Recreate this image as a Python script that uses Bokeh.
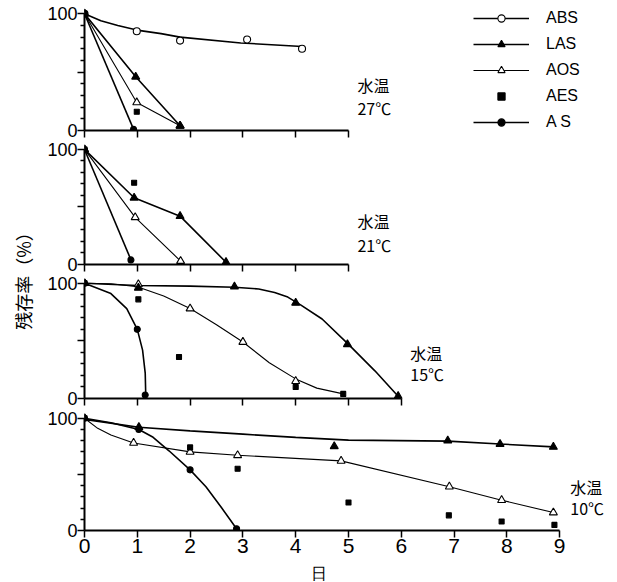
import math
from bokeh.plotting import figure
from bokeh.layouts import row, column
from bokeh.models import Range1d, FixedTicker, Legend, LegendItem
from bokeh.embed import file_html
from bokeh.resources import INLINE
from bokeh.core.properties import value

# ---------------- data ----------------
series_names = ["ABS", "LAS", "AOS", "AES", "A S"]
temp_labels = ["27℃", "21℃", "15℃", "10℃"]
water_temp_word = "水温"
y_title = "残存率（%）"
x_title = "日"

# 27 C
t27_abs_x = [0, 0.99, 1.81, 3.08, 4.12]
t27_abs_y = [100, 85, 77, 78, 70]
t27_abs_curve_x = [0, 0.31, 0.63, 0.99, 1.45, 1.81, 2.96, 4.12]
t27_abs_curve_y = [100, 94, 90, 86, 83, 80, 75, 72]
t27_las_x = [0, 0.97, 1.81]
t27_las_y = [100, 46, 4]
t27_aos_x = [0, 0.99, 1.81]
t27_aos_y = [100, 24, 4]
t27_aes_x = [0, 0.99]
t27_aes_y = [100, 16]
t27_as_x = [0, 0.93]
t27_as_y = [100, 1]

# 21 C
t21_las_x = [0, 0.94, 1.81, 2.68]
t21_las_y = [100, 58, 42, 2]
t21_aos_x = [0, 0.96, 1.82]
t21_aos_y = [100, 41, 3]
t21_aes_x = [0, 0.94]
t21_aes_y = [100, 71]
t21_as_x = [0, 0.88]
t21_as_y = [100, 4]

# 15 C
t15_las_x = [0, 1.02, 2.84, 4.0, 4.98, 5.94]
t15_las_y = [100, 96, 97, 83, 47, 2]
t15_las_curve_x = [0, 1.0, 2.0, 2.84, 3.3, 3.6, 3.85, 4.1, 4.5, 5.0, 5.5, 5.94]
t15_las_curve_y = [100, 98, 97.5, 96.5, 95, 92, 88, 81, 69, 47, 24, 2]
t15_aos_x = [0, 1.02, 2.0, 3.0, 4.0]
t15_aos_y = [100, 99, 78, 49, 15]
t15_aos_curve_x = [0, 0.5, 1.0, 1.5, 2.0, 2.5, 3.0, 3.5, 4.0, 4.4, 4.9]
t15_aos_curve_y = [100, 99.5, 97, 89, 78, 64, 49, 31, 17, 9, 4]
t15_aes_x = [0, 1.02, 1.79, 4.0, 4.9]
t15_aes_y = [100, 86, 36, 10, 4]
t15_as_x = [0, 1.0, 1.15]
t15_as_y = [100, 60, 3]
t15_as_curve_x = [0, 0.5, 0.8, 1.0, 1.1, 1.15, 1.16]
t15_as_curve_y = [100, 91, 78, 60, 42, 22, 3]

# 10 C
t10_las_x = [0, 1.03, 4.73, 6.88, 7.87, 8.88]
t10_las_y = [100, 92, 75, 80, 77, 74.5]
t10_las_curve_x = [0, 1.03, 2, 3, 4, 5, 6.88, 7.87, 8.88]
t10_las_curve_y = [99, 92, 88.7, 85.8, 82.9, 80.5, 79.6, 77, 74.5]
t10_aos_x = [0, 0.93, 2.0, 2.9, 4.86, 6.91, 7.9, 8.88]
t10_aos_y = [100, 78, 70, 67, 62, 39, 27, 16]
t10_aos_curve_x = [0, 0.25, 0.5, 0.93, 2.0, 2.9, 4.86, 6.91, 7.9, 8.88]
t10_aos_curve_y = [100, 91, 85, 78, 70, 67, 62, 39, 27, 16]
t10_aes_x = [0, 2.0, 2.9, 5.0, 6.9, 7.9, 8.9]
t10_aes_y = [100, 74, 55, 25, 13.5, 8, 5]
t10_as_x = [0, 1.03, 2.0, 2.88]
t10_as_y = [100, 90, 54, 1.5]
t10_as_curve_x = [0, 0.5, 1.03, 1.3, 1.6, 2.0, 2.3, 2.6, 2.88]
t10_as_curve_y = [100, 96, 90, 83, 71, 54, 39, 20, 1.5]

x_ticks = [0, 1, 2, 3, 4, 5, 6, 7, 8, 9]
y_major = [0, 50, 100]
y_minor = [10, 20, 30, 40, 60, 70, 80, 90]

# panel tables: (points_x, points_y, line_x, line_y) ; line None = no line
panels = [
    {"ABS": (t27_abs_x, t27_abs_y, t27_abs_curve_x, t27_abs_curve_y),
     "LAS": (t27_las_x, t27_las_y, t27_las_x, t27_las_y),
     "AOS": (t27_aos_x, t27_aos_y, t27_aos_x, t27_aos_y),
     "AES": (t27_aes_x, t27_aes_y, None, None),
     "A S": (t27_as_x, t27_as_y, t27_as_x, t27_as_y)},
    {"LAS": (t21_las_x, t21_las_y, t21_las_x, t21_las_y),
     "AOS": (t21_aos_x, t21_aos_y, t21_aos_x, t21_aos_y),
     "AES": (t21_aes_x, t21_aes_y, None, None),
     "A S": (t21_as_x, t21_as_y, t21_as_x, t21_as_y)},
    {"LAS": (t15_las_x, t15_las_y, t15_las_curve_x, t15_las_curve_y),
     "AOS": (t15_aos_x, t15_aos_y, t15_aos_curve_x, t15_aos_curve_y),
     "AES": (t15_aes_x, t15_aes_y, None, None),
     "A S": (t15_as_x, t15_as_y, t15_as_curve_x, t15_as_curve_y)},
    {"LAS": (t10_las_x, t10_las_y, t10_las_curve_x, t10_las_curve_y),
     "AOS": (t10_aos_x, t10_aos_y, t10_aos_curve_x, t10_aos_curve_y),
     "AES": (t10_aes_x, t10_aes_y, None, None),
     "A S": (t10_as_x, t10_as_y, t10_as_curve_x, t10_as_curve_y)},
]

# ---------------- styles / layout ----------------
STY = {
    "ABS": dict(marker="circle", fill_color="white", size=7, lw=1.6),
    "LAS": dict(marker="triangle", fill_color="black", size=8, lw=1.6),
    "AOS": dict(marker="triangle", fill_color="white", size=8, lw=1.1),
    "AES": dict(marker="square", fill_color="black", size=5, lw=1.6),
    "A S": dict(marker="circle", fill_color="black", size=6, lw=1.6),
}
draw_order = ["ABS", "AOS", "LAS", "AES", "A S"]

STRIP_W = 36
FIG_W = 617 - STRIP_W
LEFT = 48
X_END = (FIG_W - LEFT) / 52.8
BOTTOM_H = 20
fig_heights = [140, 134, 135, 153]
border_top = [8, 4, 4, 4]
border_bottom = [10, 10, 11, 32]
x_bounds = [5, 5, 6, 9]
y_ends = [104.5, 104.3, 104.1, 104.2]
# label positions (x data, y of first line, y of second line)
temp_pos = [(5.17, 39.4, 19.7), (5.17, 37.7, 16.7), (6.17, 39.7, 21.5), (9.2, 38.8, 20.0)]
x_title_x = 4.44

FONT = "Liberation Sans"
JP = "Noto Sans CJK JP"

figs = []
legend_items = []
for i, pdata in enumerate(panels):
    p = figure(width=FIG_W, height=fig_heights[i], x_range=Range1d(0, X_END),
               y_range=Range1d(0, y_ends[i]), output_backend="svg",
               toolbar_location=None, title=None,
               min_border_left=LEFT, min_border_right=0,
               min_border_top=border_top[i], min_border_bottom=border_bottom[i])
    p.outline_line_color = None
    p.grid.visible = False
    p.background_fill_color = "white"
    p.border_fill_color = "white"

    rends = {}
    for name in draw_order:
        if name not in pdata:
            continue
        px, py, lx, ly = pdata[name]
        s = STY[name]
        lr = None
        if lx is not None:
            lr = p.line(lx, ly, line_color="black", line_width=s["lw"])
        rends[name] = [lr, px, py]
    for name in draw_order:
        if name not in rends:
            continue
        lr, px, py = rends[name]
        s = STY[name]
        sr = p.scatter(px, py, marker=s["marker"], size=s["size"],
                       fill_color=s["fill_color"], line_color="black", line_width=1.1)
        rends[name] = [r for r in (lr, sr) if r is not None]

    if i == 0:
        for name in series_names:
            legend_items.append(LegendItem(label=name, renderers=rends[name]))
        legend = Legend(items=legend_items, location=(389, -1), orientation="vertical",
                        glyph_width=56, glyph_height=18, label_height=18, spacing=8,
                        padding=0, margin=0, label_standoff=17,
                        label_text_font=FONT, label_text_font_size="16px",
                        label_text_color="black",
                        border_line_color=None, background_fill_alpha=0)
        p.add_layout(legend)

    tx, ty1, ty2 = temp_pos[i]
    p.text(x=[tx, tx], y=[ty1, ty2], text=[water_temp_word, temp_labels[i]],
           text_font=value(JP), text_font_size="16px", text_align="left",
           text_baseline="middle", text_color="black")

    xa = p.xaxis[0]
    xa.bounds = (0, x_bounds[i])
    xa.ticker = FixedTicker(ticks=x_ticks[: x_bounds[i] + 1])
    xa.axis_line_width = 2
    xa.major_tick_line_width = 1.5
    xa.major_tick_out = 7
    xa.major_tick_in = 0
    xa.minor_tick_out = 0
    xa.minor_tick_in = 0
    if i == 3:
        xa.major_label_text_font = FONT
        xa.major_label_text_font_size = "21px"
        xa.major_label_standoff = 1
        xa.major_label_text_color = "black"
    else:
        xa.major_label_text_font_size = "1px"
        xa.major_label_standoff = 0
        xa.major_label_text_alpha = 0

    ya = p.yaxis[0]
    ya.bounds = (0, 100)
    ya.ticker = FixedTicker(ticks=y_major, minor_ticks=y_minor)
    ya.major_label_overrides = {50: ""}
    ya.axis_line_width = 2
    ya.major_tick_line_width = 1.5
    ya.minor_tick_line_width = 1.5
    ya.major_tick_out = 7
    ya.major_tick_in = 0
    ya.minor_tick_out = 4
    ya.minor_tick_in = 0
    ya.major_label_standoff = 0
    ya.major_label_text_font = FONT
    ya.major_label_text_font_size = "18px"
    ya.major_label_text_color = "black"
    figs.append(p)

# strip under the last panel, holding the x-axis title
bottom = figure(width=FIG_W, height=BOTTOM_H, x_range=Range1d(0, X_END),
                y_range=Range1d(0, 1), x_axis_type=None, y_axis_type=None,
                output_backend="svg", toolbar_location=None, title=None,
                min_border_left=LEFT, min_border_right=0, min_border_top=0,
                min_border_bottom=0)
bottom.outline_line_color = None
bottom.grid.visible = False
bottom.text(x=[x_title_x], y=[0.45], text=[x_title], text_font=value(FONT),
            text_font_size="16px", text_align="center", text_baseline="middle",
            text_color="black")

# left strip with the vertical y-axis title
TOTAL_H = sum(fig_heights) + BOTTOM_H
lab = figure(width=STRIP_W, height=TOTAL_H, x_range=Range1d(0, STRIP_W),
             y_range=Range1d(0, TOTAL_H), x_axis_type=None, y_axis_type=None,
             output_backend="svg", toolbar_location=None, title=None, min_border=0)
lab.outline_line_color = None
lab.grid.visible = False
lab.text(x=[22], y=[TOTAL_H - 276], text=[y_title], angle=math.pi / 2,
         text_font=value(JP), text_font_size="18px", text_align="center",
         text_baseline="middle", text_color="black")

layout = row(lab, column(*figs, bottom))
open("out.html", "w").write(file_html(layout, INLINE))
